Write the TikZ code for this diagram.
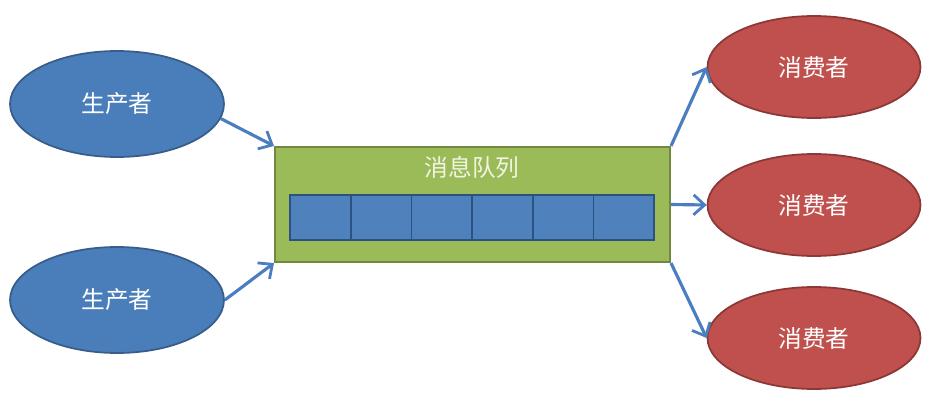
\documentclass[tikz,border=0pt]{standalone}
\usepackage{fontspec}
\setmainfont{Noto Sans CJK SC}
\usepackage{tikz}
\usetikzlibrary{arrows.meta,positioning,shapes.geometric}
\definecolor{prodblue}{RGB}{74,126,187}
\definecolor{prodedge}{RGB}{56,93,138}
\definecolor{consred}{RGB}{192,80,77}
\definecolor{consedge}{RGB}{140,56,54}
\definecolor{queuegreen}{RGB}{155,187,89}
\definecolor{queueedge}{RGB}{113,137,63}
\definecolor{cellblue}{RGB}{79,129,189}
\definecolor{celledge}{RGB}{44,82,130}
\definecolor{arrowblue}{RGB}{74,126,193}
\tikzset{
  producer/.style={ellipse,draw=prodedge,fill=prodblue,line width=1pt,
    minimum width=4.28cm,minimum height=2.12cm,inner sep=0pt,text=white},
  consumer/.style={ellipse,draw=consedge,fill=consred,line width=1pt,
    minimum width=4.26cm,minimum height=2.04cm,inner sep=0pt,text=white},
  queuebox/.style={rectangle,draw=queueedge,fill=queuegreen,line width=1.2pt,
    minimum width=7.9cm,minimum height=2.3cm,inner sep=0pt},
  cell/.style={rectangle,draw=celledge,fill=cellblue,line width=1pt,
    minimum width=1.214cm,minimum height=0.9cm,inner sep=0pt},
  flow/.style={draw=arrowblue,line width=1.8pt,
    -{Straight Barb[length=2.2mm,width=4mm,line width=1.6pt]}},
  every node/.style={font=\fontsize{13.5}{15}\selectfont}
}

\begin{document}
\begin{tikzpicture}[x=0.02cm,y=-0.02cm]
  \useasboundingbox (0,0) rectangle (934,409);
  % --- producers ---
  \node[producer] (prod1) at (117,104) {生产者};
  \node[producer] (prod2) at (117,300) {生产者};

  % --- queue ---
  \node[queuebox] (queue) at (472.5,204.5) {};
  \node[text={rgb,255:red,240;green,244;blue,225}] (title) at (472,167) {消息队列};
  \foreach \i in {0,...,5}
    \node[cell] (cell\i) at ({290+30.35+60.7*\i},217.5) {};

  % --- consumers ---
  \node[consumer] (cons1) at (814,67) {消费者};
  \node[consumer] (cons2) at (814,205) {消费者};
  \node[consumer] (cons3) at (814,338) {消费者};

  % --- arrows ---
  \draw[flow] (prod1.-8) -- (queue.north west);
  \draw[flow] (prod2.east) -- (queue.south west);
  \draw[flow] (queue.north east) -- (cons1.west);
  \draw[flow] (queue.east) -- (cons2.west);
  \draw[flow] (queue.south east) -- (cons3.west);
\end{tikzpicture}
\end{document}
